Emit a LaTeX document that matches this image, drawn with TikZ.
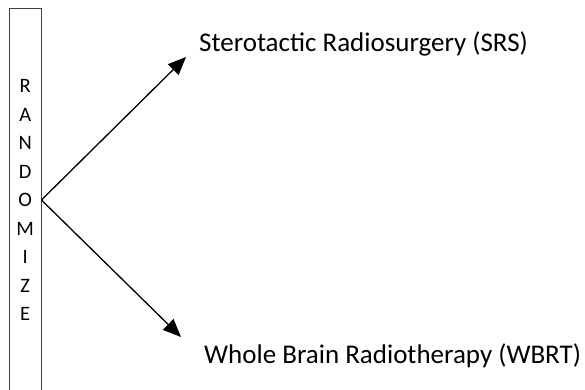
\documentclass[tikz,border=0pt]{standalone}
\usepackage{fontspec}
\setmainfont{Carlito}
\usepackage{tikz}
\usetikzlibrary{positioning, arrows.meta}

\begin{document}
\begin{tikzpicture}[x=1pt, y=-1pt,
    font=\fontsize{20.5}{28.5}\selectfont,
    randbox/.style={draw=black!75, line width=0.9pt, minimum width=31.5pt,
      minimum height=384pt, inner sep=0pt, align=center},
    armlabel/.style={anchor=base west, inner sep=0pt, font=\fontsize{27}{30}\selectfont},
    arm/.style={-{Triangle[length=18pt, width=15pt]}, line width=1.3pt}]
    \useasboundingbox (0,0) rectangle (585,390);
    % --- randomize column ---
    \node[randbox] (rand) at (25.25,200) {R\\A\\N\\D\\O\\M\\I\\Z\\E};
    % --- treatment arms ---
    \node[armlabel] (srs) at (199,52) {Sterotactic Radiosurgery (SRS)};
    \node[armlabel] (wbrt) at (204,363) {Whole Brain Radiotherapy (WBRT)};
    \coordinate (srstip) at (186,57);
    \coordinate (wbrttip) at (181,337);
    % --- arrows ---
    \draw[arm] (rand.east) -- (srstip);
    \draw[arm] (rand.east) -- (wbrttip);
\end{tikzpicture}
\end{document}
